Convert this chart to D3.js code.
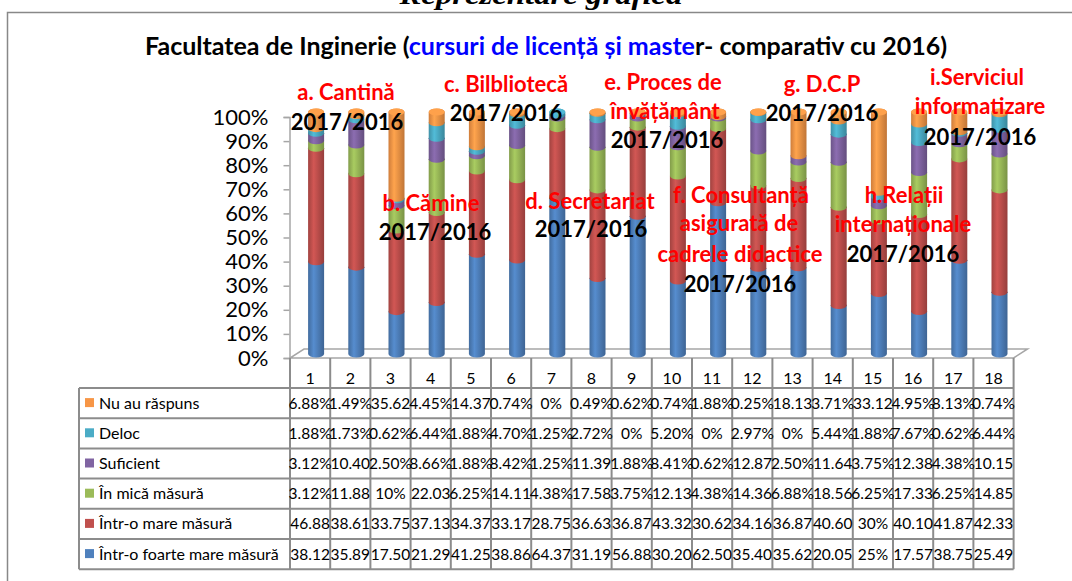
<!DOCTYPE html>
<html>
<head>
<meta charset="utf-8">
<script src="https://d3js.org/d3.v7.min.js"></script>
<style>
  body { margin: 0; background: #fff; }
  svg { display: block; }
</style>
</head>
<body>
<svg id="chart"></svg>
<script>
  // categories (column numbers in the data table)
  var cats = ["1","2","3","4","5","6","7","8","9","10","11","12","13","14","15","16","17","18"];

  // series, values in %
  var intrOFoarteMare = [38.12,35.89,17.50,21.29,41.25,38.86,64.37,31.19,56.88,30.20,62.50,35.40,35.62,20.05,25,17.57,38.75,25.49];
  var intrOMare       = [46.88,38.61,33.75,37.13,34.37,33.17,28.75,36.63,36.87,43.32,30.62,34.16,36.87,40.60,30,40.10,41.87,42.33];
  var inMica          = [3.12,11.88,10,22.03,6.25,14.11,4.38,17.58,3.75,12.13,4.38,14.36,6.88,18.56,6.25,17.33,6.25,14.85];
  var suficient       = [3.12,10.40,2.50,8.66,1.88,8.42,1.25,11.39,1.88,8.41,0.62,12.87,2.50,11.64,3.75,12.38,4.38,10.15];
  var deloc           = [1.88,1.73,0.62,6.44,1.88,4.70,1.25,2.72,0,5.20,0,2.97,0,5.44,1.88,7.67,0.62,6.44];
  var nuAuRaspuns     = [6.88,1.49,35.62,4.45,14.37,0.74,0,0.49,0.62,0.74,1.88,0.25,18.13,3.71,33.12,4.95,8.13,0.74];

  // series names, bottom of the stack first
  var seriesNames = ["Într-o foarte mare măsură","Într-o mare măsură","În mică măsură","Suficient","Deloc","Nu au răspuns"];
  var seriesValues = [intrOFoarteMare, intrOMare, inMica, suficient, deloc, nuAuRaspuns];
  var seriesColors = ["#4F81BD","#C0504D","#9BBB59","#8064A2","#4BACC6","#F79646"];

  var yTicks = [0,10,20,30,40,50,60,70,80,90,100];

  // annotation texts over the plot
  var notes = [
    {t:"a. Cantină", c:"red", x:346, y:100}, {t:"2017/2016", c:"black", x:347, y:130},
    {t:"c. Bilbliotecă", c:"red", x:506, y:92}, {t:"2017/2016", c:"black", x:506, y:121},
    {t:"b. Cămine", c:"red", x:431, y:211}, {t:"2017/2016", c:"black", x:435, y:240},
    {t:"d. Secretariat", c:"red", x:590, y:209}, {t:"2017/2016", c:"black", x:591, y:237},
    {t:"e. Proces de", c:"red", x:663, y:90}, {t:"învățământ", c:"red", x:665, y:119}, {t:"2017/2016", c:"black", x:667, y:148},
    {t:"f. Consultanță", c:"red", x:741, y:203}, {t:"asigurată de", c:"red", x:739, y:231},
    {t:"cadrele didactice", c:"red", x:740, y:262}, {t:"2017/2016", c:"black", x:740, y:292},
    {t:"g. D.C.P", c:"red", x:822, y:92}, {t:"2017/2016", c:"black", x:822, y:121},
    {t:"h.Relații", c:"red", x:904, y:203}, {t:"internaționale", c:"red", x:903, y:232}, {t:"2017/2016", c:"black", x:903, y:262},
    {t:"i.Serviciul", c:"red", x:977, y:85}, {t:"informatizare", c:"red", x:980, y:114}, {t:"2017/2016", c:"black", x:980, y:145}
  ];

  var W = 1072, H = 581;
  var svg = d3.select("#chart").attr("width", W).attr("height", H);
  var font = "Lato, 'Open Sans', sans-serif";

  // heading cut by the top of the picture
  svg.append("text")
    .attr("x", 541).attr("y", 4)
    .attr("text-anchor", "middle")
    .attr("textLength", 283).attr("lengthAdjust", "spacingAndGlyphs")
    .style("font-family", "'Liberation Serif', serif")
    .style("font-weight", "bold").style("font-style", "italic")
    .style("font-size", "28px")
    .text("Reprezentare grafică");

  // chart frame
  svg.append("path")
    .attr("d", "M7.5,581 V12.5 H1072")
    .attr("fill", "none").attr("stroke", "#888").attr("stroke-width", 1.5);

  // title
  var title = svg.append("text")
    .attr("x", 546).attr("y", 55)
    .attr("text-anchor", "middle")
    .style("font-family", font).style("font-weight", "bold").style("font-size", "25px");
  title.append("tspan").text("Facultatea de Inginerie (");
  title.append("tspan").attr("fill", "#0000FF").text("cursuri de licență și maste");
  title.append("tspan").text("r- comparativ cu 2016)");

  // scales
  var x = d3.scaleBand().domain(cats).range([290, 1013.6]);
  var yBar = d3.scaleLinear().domain([0, 100]).range([354, 112]);
  var yAx = d3.scaleLinear().domain([0, 100]).range([358, 117]);

  // floor of the 3D plot
  svg.append("path")
    .attr("d", "M290,358 L1013.6,358 L1027.6,349 L304,349 Z")
    .attr("fill", "#fff").attr("stroke", "#a6a6a6").attr("stroke-width", 1.5);

  // y axis
  var yAxis = svg.append("g")
    .attr("transform", "translate(289.5,0)")
    .call(d3.axisLeft(yAx).tickValues(yTicks).tickSize(6).tickPadding(15).tickFormat(function(d){ return d + "%"; }));
  yAxis.select(".domain").attr("stroke", "#a6a6a6").attr("stroke-width", 1.5);
  yAxis.selectAll(".tick line").attr("stroke", "#a6a6a6").attr("stroke-width", 1.5);
  yAxis.selectAll(".tick text")
    .style("font-family", font).style("font-size", "22px").attr("fill", "#000");

  // gradients for cylinder shading
  var defs = svg.append("defs");
  seriesColors.forEach(function(c, i) {
    var g = defs.append("linearGradient").attr("id", "grad" + i)
      .attr("x1", "0%").attr("x2", "100%").attr("y1", "0%").attr("y2", "0%");
    g.append("stop").attr("offset", "0%").attr("stop-color", d3.color(c).darker(0.5));
    g.append("stop").attr("offset", "35%").attr("stop-color", d3.color(c).brighter(0.25));
    g.append("stop").attr("offset", "100%").attr("stop-color", d3.color(c).darker(0.7));
  });

  // stack data
  var rows = cats.map(function(c, j) {
    var o = {cat: c};
    seriesNames.forEach(function(s, i) { o[s] = seriesValues[i][j]; });
    return o;
  });
  var stacked = d3.stack().keys(seriesNames)(rows);

  var rx = 8, ry = 3.5, shift = 6;
  function cx(cat) { return x(cat) + x.bandwidth() / 2 + shift; }
  function segPath(c, yb, yt) {
    return "M" + (c - rx) + "," + yt + " L" + (c - rx) + "," + yb +
      " A" + rx + "," + ry + " 0 0 0 " + (c + rx) + "," + yb +
      " L" + (c + rx) + "," + yt +
      " A" + rx + "," + ry + " 0 0 0 " + (c - rx) + "," + yt + " Z";
  }

  var bars = svg.append("g");
  stacked.forEach(function(layer, i) {
    bars.selectAll(".s" + i)
      .data(layer.filter(function(d) { return d[1] - d[0] > 0; }))
      .enter().append("path")
      .attr("d", function(d) { return segPath(cx(d.data.cat), yBar(d[0]), yBar(d[1])); })
      .attr("fill", "url(#grad" + i + ")");
  });

  // top caps
  bars.selectAll(".cap")
    .data(rows)
    .enter().append("ellipse")
    .attr("cx", function(d) { return cx(d.cat); })
    .attr("cy", yBar(100))
    .attr("rx", rx).attr("ry", ry)
    .attr("fill", function(d) {
      var top = 0;
      seriesNames.forEach(function(s, i) { if (d[s] > 0) top = i; });
      return d3.color(seriesColors[top]).brighter(0.2);
    });

  // annotations
  svg.append("g").selectAll("text")
    .data(notes)
    .enter().append("text")
    .attr("x", function(d) { return d.x; })
    .attr("y", function(d) { return d.y; })
    .attr("text-anchor", "middle")
    .attr("fill", function(d) { return d.c === "red" ? "#FF0000" : "#000"; })
    .style("font-family", font).style("font-weight", "bold").style("font-size", "22px")
    .text(function(d) { return d.t; });

  // data table
  var rowTop = 388, rowH = 30.2, legendLeft = 79;
  var tableRows = seriesNames.slice().reverse();
  var table = svg.append("g");
  var lineColor = "#8c8c8c";

  // horizontal lines
  d3.range(tableRows.length + 1).forEach(function(k) {
    table.append("line")
      .attr("x1", legendLeft).attr("x2", x.range()[1])
      .attr("y1", rowTop + k * rowH).attr("y2", rowTop + k * rowH)
      .attr("stroke", lineColor).attr("stroke-width", 2);
  });
  // vertical lines
  var colEdges = cats.map(function(c) { return x(c); }).concat([x.range()[1]]);
  table.selectAll(".vline")
    .data(colEdges)
    .enter().append("line")
    .attr("x1", function(d) { return d; }).attr("x2", function(d) { return d; })
    .attr("y1", 358).attr("y2", rowTop + tableRows.length * rowH)
    .attr("stroke", lineColor).attr("stroke-width", 2);
  table.append("line")
    .attr("x1", legendLeft).attr("x2", legendLeft)
    .attr("y1", rowTop).attr("y2", rowTop + tableRows.length * rowH)
    .attr("stroke", lineColor).attr("stroke-width", 2);

  // column numbers
  table.selectAll(".num")
    .data(cats)
    .enter().append("text")
    .attr("x", function(d) { return x(d) + x.bandwidth() / 2; })
    .attr("y", 384)
    .attr("text-anchor", "middle")
    .style("font-family", font).style("font-size", "16px")
    .text(function(d) { return d; });

  function fmt(v) {
    if (v % 1 === 0) return v + "%";
    if (v >= 10) return v.toFixed(2);
    return v.toFixed(2) + "%";
  }

  tableRows.forEach(function(name, k) {
    var si = seriesNames.indexOf(name);
    var yMid = rowTop + k * rowH + rowH / 2;
    table.append("rect")
      .attr("x", 85).attr("y", yMid - 5).attr("width", 9).attr("height", 9)
      .attr("fill", seriesColors[si]);
    table.append("text")
      .attr("x", 99).attr("y", yMid + 5.5)
      .style("font-family", font).style("font-size", "16px")
      .text(name);
    table.selectAll(".v" + k)
      .data(seriesValues[si])
      .enter().append("text")
      .attr("x", function(d, j) { return x(cats[j]) + x.bandwidth() / 2; })
      .attr("y", yMid + 5.5)
      .attr("text-anchor", "middle")
      .style("font-family", font).style("font-size", "15.5px")
      .text(function(d) { return fmt(d); });
  });
</script>
</body>
</html>
